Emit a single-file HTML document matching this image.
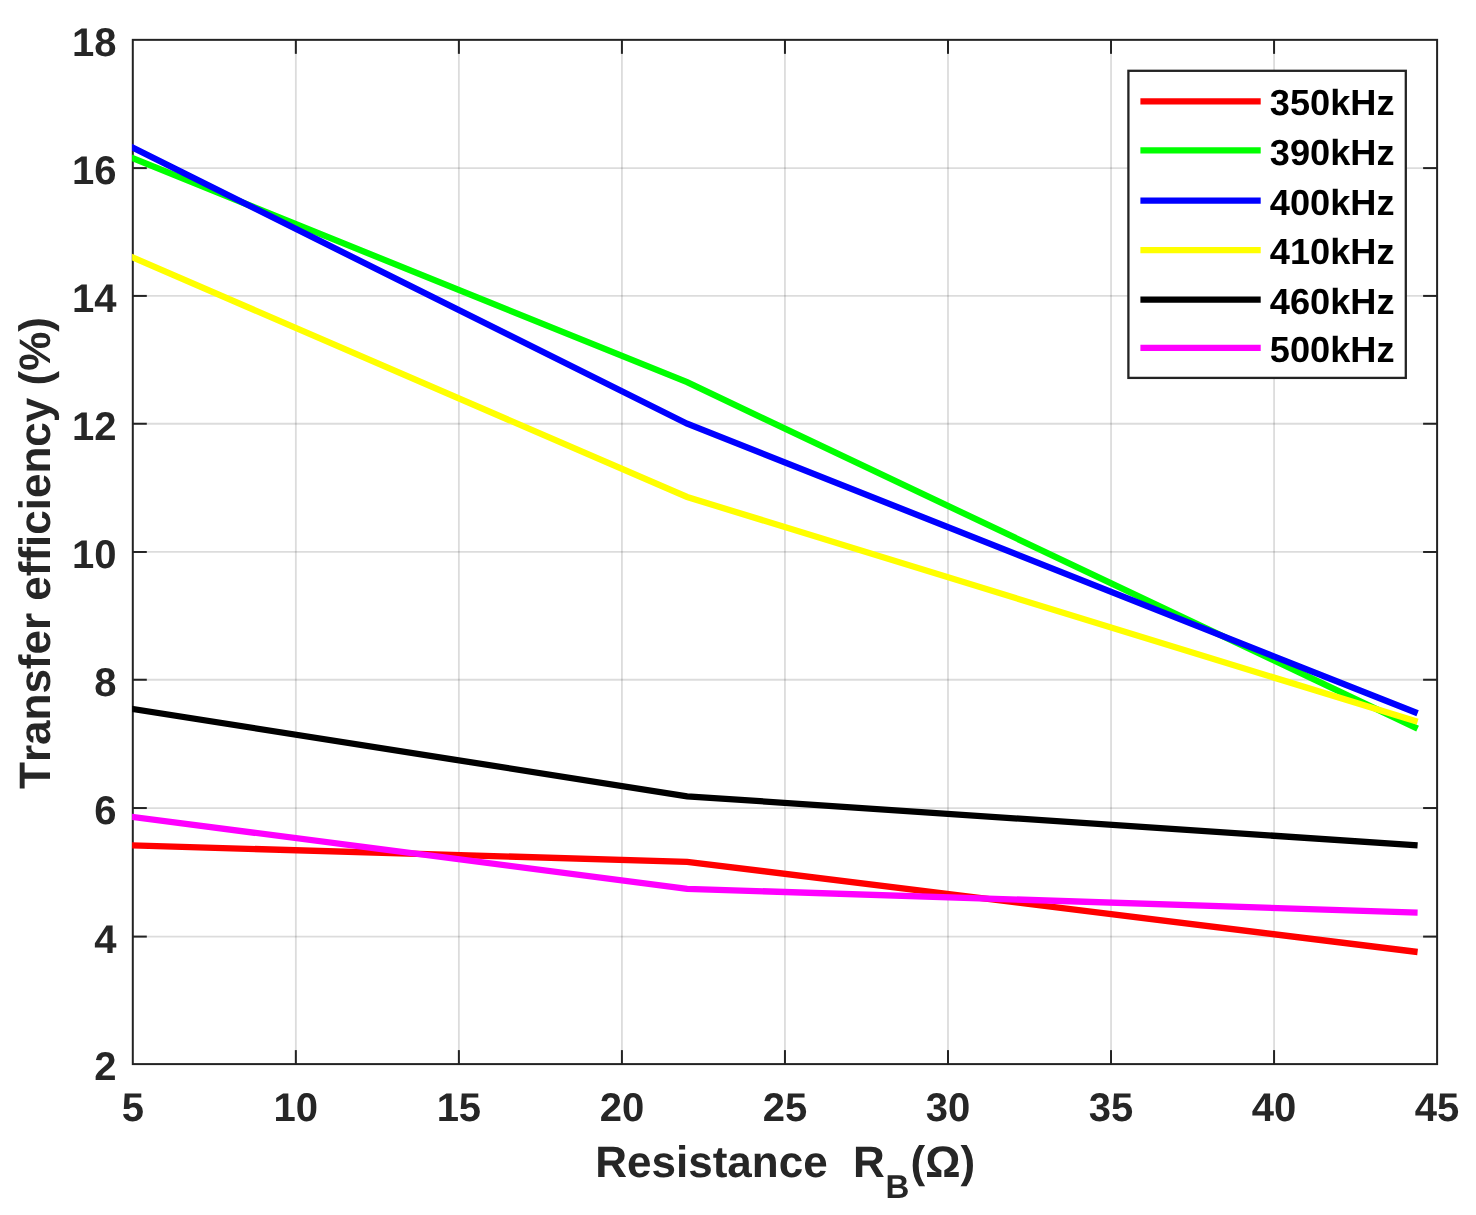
<!DOCTYPE html>
<html lang="en"><head><meta charset="utf-8"><title>Transfer efficiency vs Resistance</title>
<style>html,body{margin:0;padding:0;background:#fff;}body{width:1476px;height:1215px;overflow:hidden;}svg{display:block;}text{font-family:"Liberation Sans",Arial,Helvetica,sans-serif;font-weight:bold;font-kerning:none;text-rendering:geometricPrecision;}</style></head><body>
<svg width="1476" height="1215" viewBox="0 0 1476 1215">
<rect x="0" y="0" width="1476" height="1215" fill="#ffffff"/>
<g stroke="#262626" stroke-opacity="0.16" stroke-width="1.8" fill="none">
<line x1="295.84" y1="39.85" x2="295.84" y2="1064.10"/>
<line x1="458.88" y1="39.85" x2="458.88" y2="1064.10"/>
<line x1="621.91" y1="39.85" x2="621.91" y2="1064.10"/>
<line x1="784.95" y1="39.85" x2="784.95" y2="1064.10"/>
<line x1="947.99" y1="39.85" x2="947.99" y2="1064.10"/>
<line x1="1111.03" y1="39.85" x2="1111.03" y2="1064.10"/>
<line x1="1274.06" y1="39.85" x2="1274.06" y2="1064.10"/>
<line x1="132.80" y1="936.60" x2="1437.10" y2="936.60"/>
<line x1="132.80" y1="808.04" x2="1437.10" y2="808.04"/>
<line x1="132.80" y1="679.75" x2="1437.10" y2="679.75"/>
<line x1="132.80" y1="551.97" x2="1437.10" y2="551.97"/>
<line x1="132.80" y1="423.75" x2="1437.10" y2="423.75"/>
<line x1="132.80" y1="295.91" x2="1437.10" y2="295.91"/>
<line x1="132.80" y1="168.10" x2="1437.10" y2="168.10"/>
</g>
<g stroke="#232323" stroke-width="2.0" fill="none">
<rect x="132.80" y="39.85" width="1304.30" height="1024.25"/>
<line x1="295.84" y1="1064.10" x2="295.84" y2="1050.10"/>
<line x1="295.84" y1="39.85" x2="295.84" y2="53.85"/>
<line x1="458.88" y1="1064.10" x2="458.88" y2="1050.10"/>
<line x1="458.88" y1="39.85" x2="458.88" y2="53.85"/>
<line x1="621.91" y1="1064.10" x2="621.91" y2="1050.10"/>
<line x1="621.91" y1="39.85" x2="621.91" y2="53.85"/>
<line x1="784.95" y1="1064.10" x2="784.95" y2="1050.10"/>
<line x1="784.95" y1="39.85" x2="784.95" y2="53.85"/>
<line x1="947.99" y1="1064.10" x2="947.99" y2="1050.10"/>
<line x1="947.99" y1="39.85" x2="947.99" y2="53.85"/>
<line x1="1111.03" y1="1064.10" x2="1111.03" y2="1050.10"/>
<line x1="1111.03" y1="39.85" x2="1111.03" y2="53.85"/>
<line x1="1274.06" y1="1064.10" x2="1274.06" y2="1050.10"/>
<line x1="1274.06" y1="39.85" x2="1274.06" y2="53.85"/>
<line x1="132.80" y1="936.60" x2="146.80" y2="936.60"/>
<line x1="1437.10" y1="936.60" x2="1423.10" y2="936.60"/>
<line x1="132.80" y1="808.04" x2="146.80" y2="808.04"/>
<line x1="1437.10" y1="808.04" x2="1423.10" y2="808.04"/>
<line x1="132.80" y1="679.75" x2="146.80" y2="679.75"/>
<line x1="1437.10" y1="679.75" x2="1423.10" y2="679.75"/>
<line x1="132.80" y1="551.97" x2="146.80" y2="551.97"/>
<line x1="1437.10" y1="551.97" x2="1423.10" y2="551.97"/>
<line x1="132.80" y1="423.75" x2="146.80" y2="423.75"/>
<line x1="1437.10" y1="423.75" x2="1423.10" y2="423.75"/>
<line x1="132.80" y1="295.91" x2="146.80" y2="295.91"/>
<line x1="1437.10" y1="295.91" x2="1423.10" y2="295.91"/>
<line x1="132.80" y1="168.10" x2="146.80" y2="168.10"/>
<line x1="1437.10" y1="168.10" x2="1423.10" y2="168.10"/>
</g>
<clipPath id="axclip"><rect x="132.10" y="39.85" width="1305.70" height="1024.25"/></clipPath>
<g fill="none" stroke-width="6.3" stroke-linejoin="miter" stroke-linecap="butt" clip-path="url(#axclip)">
<polyline stroke="#ff0000" points="126.80,845.22 687.13,861.80 1417.60,952.00"/>
<polyline stroke="#00ff00" points="126.80,155.78 687.13,382.20 1417.60,728.60"/>
<polyline stroke="#0000ff" points="126.80,144.71 687.13,423.70 1417.60,713.30"/>
<polyline stroke="#ffff00" points="126.80,254.91 687.13,497.00 1417.60,721.80"/>
<polyline stroke="#000000" points="126.80,708.06 687.13,796.30 1417.60,845.40"/>
<polyline stroke="#ff00ff" points="126.80,816.22 687.13,888.80 1417.60,912.60"/>
</g>
<g fill="#262626" font-size="40">
<text x="132.80" y="1121.2" text-anchor="middle">5</text>
<text x="295.84" y="1121.2" text-anchor="middle">10</text>
<text x="458.88" y="1121.2" text-anchor="middle">15</text>
<text x="621.91" y="1121.2" text-anchor="middle">20</text>
<text x="784.95" y="1121.2" text-anchor="middle">25</text>
<text x="947.99" y="1121.2" text-anchor="middle">30</text>
<text x="1111.03" y="1121.2" text-anchor="middle">35</text>
<text x="1274.06" y="1121.2" text-anchor="middle">40</text>
<text x="1437.10" y="1121.2" text-anchor="middle">45</text>
<text x="116.6" y="1080.30" text-anchor="end">2</text>
<text x="116.6" y="952.80" text-anchor="end">4</text>
<text x="116.6" y="824.24" text-anchor="end">6</text>
<text x="116.6" y="695.95" text-anchor="end">8</text>
<text x="116.6" y="568.17" text-anchor="end">10</text>
<text x="116.6" y="439.95" text-anchor="end">12</text>
<text x="116.6" y="312.11" text-anchor="end">14</text>
<text x="116.6" y="184.30" text-anchor="end">16</text>
<text x="116.6" y="56.05" text-anchor="end">18</text>
</g>
<g fill="#262626" font-size="44">
<text x="595.3" y="1177.4">Resistance</text>
<text x="853" y="1177.4">R</text>
<text x="885.5" y="1198.4" font-size="33">B</text>
<text x="910.5" y="1177.4">(Ω)</text>
</g>
<text fill="#262626" font-size="44" text-anchor="middle" transform="translate(50,553) rotate(-90)">Transfer efficiency (%)</text>
<rect x="1128.4" y="70.8" width="277.40" height="307.10" fill="#ffffff" stroke="#232323" stroke-width="2.3"/>
<g stroke-width="6.25" fill="none">
<line stroke="#ff0000" x1="1140.4" y1="101.3" x2="1260.7" y2="101.3"/>
<line stroke="#00ff00" x1="1140.4" y1="150.46" x2="1260.7" y2="150.46"/>
<line stroke="#0000ff" x1="1140.4" y1="200.6" x2="1260.7" y2="200.6"/>
<line stroke="#ffff00" x1="1140.4" y1="250.08" x2="1260.7" y2="250.08"/>
<line stroke="#000000" x1="1140.4" y1="299.6" x2="1260.7" y2="299.6"/>
<line stroke="#ff00ff" x1="1140.4" y1="347.9" x2="1260.7" y2="347.9"/>
</g>
<g fill="#000000" font-size="36.2">
<text x="1269.8" y="115.35">350kHz</text>
<text x="1269.8" y="165.10">390kHz</text>
<text x="1269.8" y="214.70">400kHz</text>
<text x="1269.8" y="263.80">410kHz</text>
<text x="1269.8" y="313.60">460kHz</text>
<text x="1269.8" y="362.40">500kHz</text>
</g>
</svg></body></html>
